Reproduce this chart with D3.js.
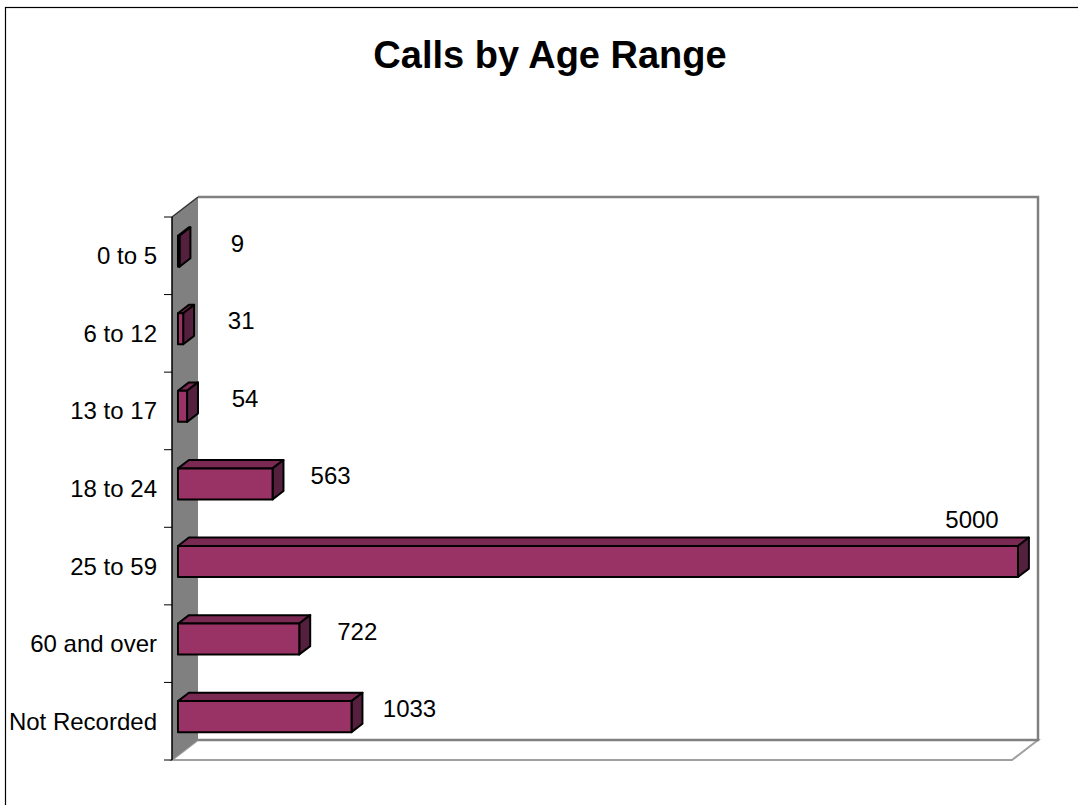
<!DOCTYPE html>
<html>
<head>
<meta charset="utf-8">
<script src="https://cdn.jsdelivr.net/npm/d3@7"></script>
<style>
  body { margin: 0; background: #fff; }
  svg text { font-family: "Liberation Sans", Arial, sans-serif; }
</style>
</head>
<body>
<svg id="chart"></svg>
<script>
// data
const categories = ["0 to 5", "6 to 12", "13 to 17", "18 to 24", "25 to 59", "60 and over", "Not Recorded"];
const calls = [9, 31, 54, 563, 5000, 722, 1033];
const chartTitle = "Calls by Age Range";

const width = 1078, height = 805;
const svg = d3.select("#chart").attr("width", width).attr("height", height);

// outer frame
svg.append("rect")
    .attr("x", 5.5).attr("y", 7.5)
    .attr("width", 1100).attr("height", 1000)
    .attr("fill", "#fff").attr("stroke", "#000").attr("stroke-width", 1.2);

svg.append("text")
    .attr("x", 550).attr("y", 68)
    .attr("text-anchor", "middle")
    .style("font-size", "38px").style("font-weight", "bold")
    .text(chartTitle);

// 3d plot box: front plane + depth offset
const front = { left: 172, top: 217, bottom: 760 };
const plotW = 840;
const depth = { dx: 26, dy: -20 };

const x = d3.scaleLinear().domain([0, 5000]).range([0, plotW]);
const yOuter = d3.scaleBand().domain(categories).range([front.top, front.bottom]).padding(0);
const yBar = d3.scaleBand().domain(categories).range([front.top, front.bottom])
    .paddingInner(0.6).paddingOuter(0.3);

// project (value, screen y on front plane, z 0..1) -> screen
function P(v, y, z) {
    return [front.left + x(v) + z * depth.dx, y + z * depth.dy];
}
const line = d3.line();

// floor
svg.append("path")
    .attr("d", line([P(0, front.bottom, 0), P(0, front.bottom, 1), P(5000, front.bottom, 1), P(5000, front.bottom, 0)]) + "Z")
    .attr("fill", "#fff").attr("stroke", "#a0a0a0").attr("stroke-width", 2);

// side wall (grey)
svg.append("path")
    .attr("d", line([P(0, front.top, 0), P(0, front.top, 1), P(0, front.bottom, 1), P(0, front.bottom, 0)]) + "Z")
    .attr("fill", "#808080");

// back wall
svg.append("path")
    .attr("d", line([P(0, front.top, 1), P(5000, front.top, 1), P(5000, front.bottom, 1), P(0, front.bottom, 1)]))
    .attr("fill", "#fff").attr("stroke", "#808080").attr("stroke-width", 2.5);

// side wall top edge
svg.append("path")
    .attr("d", line([P(0, front.top, 0), P(0, front.top, 1)]))
    .attr("stroke", "#333").attr("stroke-width", 1.5).attr("fill", "none");

// category axis
svg.append("line")
    .attr("x1", front.left).attr("x2", front.left)
    .attr("y1", front.top).attr("y2", front.bottom)
    .attr("stroke", "#000").attr("stroke-width", 1.5);

const tickYs = categories.map(c => yOuter(c)).concat([front.bottom]);
svg.selectAll(".tick").data(tickYs).enter().append("line")
    .attr("x1", front.left - 8).attr("x2", front.left)
    .attr("y1", d => d).attr("y2", d => d)
    .attr("stroke", "#000").attr("stroke-width", 1);

svg.selectAll(".cat").data(categories).enter().append("text")
    .attr("x", front.left - 15)
    .attr("y", d => yOuter(d) + yOuter.bandwidth() / 2)
    .attr("text-anchor", "end").attr("dominant-baseline", "central")
    .style("font-size", "24px")
    .text(d => d);

// bars
const z0 = 0.23, z1 = 0.65;
const rows = categories.map((c, i) => ({ cat: c, v: calls[i] }));

const bar = svg.selectAll(".bar").data(rows).enter().append("g").attr("class", "bar");

bar.append("path") // top face
    .attr("d", d => {
        const t = yBar(d.cat);
        return line([P(0, t, z0), P(d.v, t, z0), P(d.v, t, z1), P(0, t, z1)]) + "Z";
    })
    .attr("fill", "#7a2952").attr("stroke", "#000").attr("stroke-width", 2).attr("stroke-linejoin", "round");

bar.append("path") // side face
    .attr("d", d => {
        const t = yBar(d.cat), b = t + yBar.bandwidth();
        return line([P(d.v, t, z0), P(d.v, t, z1), P(d.v, b, z1), P(d.v, b, z0)]) + "Z";
    })
    .attr("fill", "#55203e").attr("stroke", "#000").attr("stroke-width", 2).attr("stroke-linejoin", "round");

bar.append("path") // front face
    .attr("d", d => {
        const t = yBar(d.cat), b = t + yBar.bandwidth();
        return line([P(0, t, z0), P(d.v, t, z0), P(d.v, b, z0), P(0, b, z0)]) + "Z";
    })
    .attr("fill", "#993366").attr("stroke", "#000").attr("stroke-width", 2).attr("stroke-linejoin", "round");

// value labels
svg.selectAll(".label").data(rows).enter().append("text")
    .attr("class", "label")
    .attr("text-anchor", "middle").attr("dominant-baseline", "central")
    .style("font-size", "24px")
    .each(function(d) {
        const end = P(d.v, yBar(d.cat) + yBar.bandwidth() / 2, z0);
        const fits = end[0] + 58 + 30 < front.left + plotW;
        d3.select(this)
            .attr("x", fits ? end[0] + 58 : end[0] - 46)
            .attr("y", fits ? end[1] - 8 : end[1] - 42);
    })
    .text(d => d.v);
</script>
</body>
</html>
